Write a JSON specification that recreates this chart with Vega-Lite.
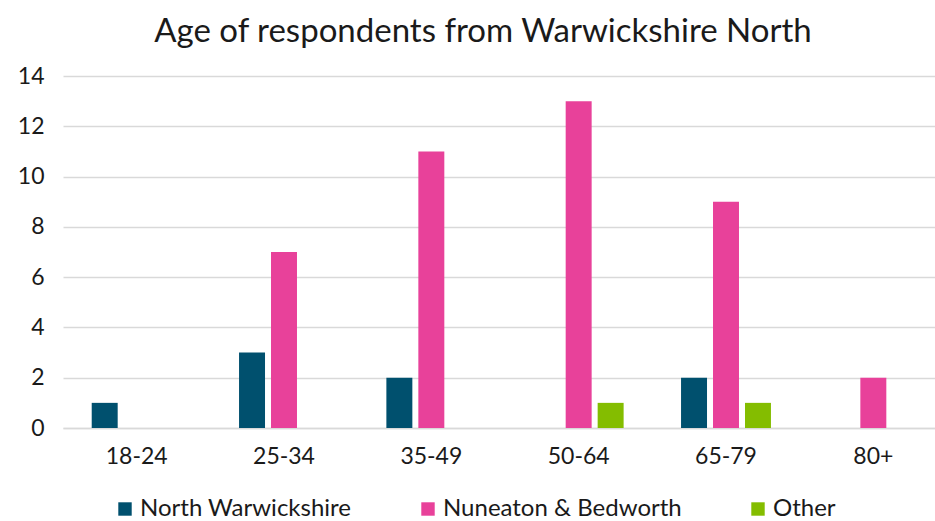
{
  "$schema": "https://vega.github.io/schema/vega-lite/v6.json",
  "autosize": "none",
  "width": 884,
  "height": 352,
  "padding": {"left": 63, "top": 76, "right": 0, "bottom": 93},
  "background": "white",
  "title": {
    "text": "Age of respondents from Warwickshire North",
    "font": "Lato",
    "fontSize": 33,
    "fontWeight": "normal",
    "color": "#1a1a1a",
    "anchor": "middle",
    "dx": -22,
    "offset": 16
  },
  "data": {
    "values": [
      {"age": "18-24", "region": "North Warwickshire", "count": 1},
      {"age": "25-34", "region": "North Warwickshire", "count": 3},
      {"age": "25-34", "region": "Nuneaton & Bedworth", "count": 7},
      {"age": "35-49", "region": "North Warwickshire", "count": 2},
      {"age": "35-49", "region": "Nuneaton & Bedworth", "count": 11},
      {"age": "50-64", "region": "Nuneaton & Bedworth", "count": 13},
      {"age": "50-64", "region": "Other", "count": 1},
      {"age": "65-79", "region": "North Warwickshire", "count": 2},
      {"age": "65-79", "region": "Nuneaton & Bedworth", "count": 9},
      {"age": "65-79", "region": "Other", "count": 1},
      {"age": "80+", "region": "Nuneaton & Bedworth", "count": 2}
    ]
  },
  "mark": {"type": "bar"},
  "encoding": {
    "x": {
      "field": "age",
      "type": "nominal",
      "sort": ["18-24", "25-34", "35-49", "50-64", "65-79", "80+"],
      "scale": {"paddingInner": 0.349, "paddingOuter": 0.1745},
      "axis": {
        "title": null,
        "labelAngle": 0,
        "labelFont": "Lato",
        "labelFontSize": 23,
        "labelColor": "#1a1a1a",
        "labelPadding": 17,
        "ticks": false,
        "domainColor": "#d9d9d9",
        "domainWidth": 1.5,
        "grid": false
      }
    },
    "xOffset": {
      "field": "region",
      "type": "nominal",
      "sort": ["North Warwickshire", "Nuneaton & Bedworth", "Other"],
      "scale": {"paddingInner": 0.1875, "paddingOuter": 0.09375}
    },
    "y": {
      "field": "count",
      "type": "quantitative",
      "scale": {"domain": [0, 14], "nice": false},
      "axis": {
        "title": null,
        "values": [0, 2, 4, 6, 8, 10, 12, 14],
        "labelFont": "Lato",
        "labelFontSize": 23,
        "labelColor": "#1a1a1a",
        "labelPadding": 19,
        "ticks": false,
        "domain": false,
        "gridColor": "#d9d9d9",
        "gridWidth": 1.5
      }
    },
    "color": {
      "field": "region",
      "type": "nominal",
      "sort": ["North Warwickshire", "Nuneaton & Bedworth", "Other"],
      "scale": {
        "domain": ["North Warwickshire", "Nuneaton & Bedworth", "Other"],
        "range": ["#00506E", "#E8419A", "#84BD00"]
      },
      "legend": {
        "title": null,
        "orient": "none",
        "direction": "horizontal",
        "legendX": 50,
        "legendY": 421,
        "symbolType": "square",
        "symbolSize": 180,
        "symbolStrokeWidth": 0,
        "labelFont": "Lato",
        "labelFontSize": 24,
        "labelLimit": 400,
        "labelColor": "#1a1a1a",
        "columnPadding": 64,
        "labelOffset": 3
      }
    }
  },
  "config": {"view": {"stroke": null}}
}
